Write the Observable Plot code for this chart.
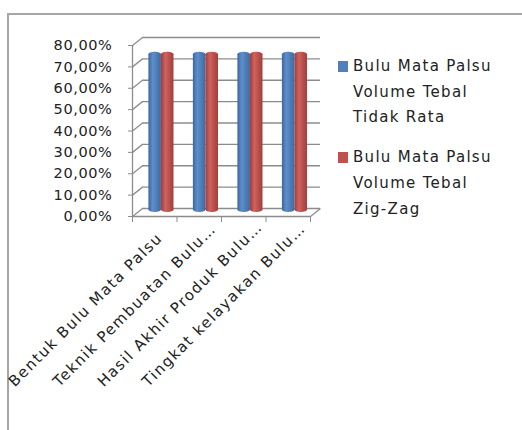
<!DOCTYPE html>
<html>
<head>
<meta charset="utf-8">
<script src="https://cdn.jsdelivr.net/npm/d3@7"></script>
<script src="https://cdn.jsdelivr.net/npm/@observablehq/plot@0.6"></script>
<style>
  html, body { margin: 0; padding: 0; background: #fff; }
  #wrap { position: relative; width: 522px; height: 430px; overflow: hidden; font-family: "DejaVu Sans", sans-serif; color: #222; }
  #frame { position: absolute; left: 7px; top: 13px; width: 700px; height: 700px; border: 2px solid #a6a6a6; box-sizing: border-box; }
  #chart { position: absolute; left: 0; top: 0; }
  #legend { position: absolute; left: 338px; top: 54px; font-size: 15px; letter-spacing: 1.3px; line-height: 25.7px; }
  .entry { position: relative; padding-left: 15px; margin-bottom: 14px; white-space: nowrap; }
  .sw { position: absolute; left: 0; top: 7px; width: 10px; height: 11px; }
</style>
</head>
<body>
<div id="wrap">
  <div id="frame"></div>
  <div id="chart"></div>
  <div id="legend"></div>
</div>
<script>
// ---- data ----
const categories = ["Bentuk Bulu Mata Palsu", "Teknik Pembuatan Bulu…", "Hasil Akhir Produk Bulu…", "Tingkat kelayakan Bulu…"];
const seriesNames = [["Bulu Mata Palsu", "Volume Tebal", "Tidak Rata"], ["Bulu Mata Palsu", "Volume Tebal", "Zig-Zag"]];
const seriesTidakRata = [75, 75, 75, 75];
const seriesZigZag = [75, 75, 75, 75];
const yTicks = [0, 10, 20, 30, 40, 50, 60, 70, 80];
const seriesColors = ["#4f81bd", "#c0504d"];

// ---- layout (styling only) ----
const W = 522, H = 430;
const mL = 132, mR = 212, mT = 45, mB = 214;
const pxPerX = (W - mL - mR) / categories.length;
const pxPerY = (H - mT - mB) / 80;
const DX = 10 / pxPerX;   // depth offset in x units
const DY = 8 / pxPerY;    // depth offset in y units
const BAR0 = 0.256, BARW = 0.282;

const rows = categories.flatMap((c, i) => [
  {cat: c, i, s: 0, v: seriesTidakRata[i]},
  {cat: c, i, s: 1, v: seriesZigZag[i]}
]);
const fmt = d => d.toFixed(2).replace(".", ",") + "%";
const grid = "#8c8c8c";
const n = categories.length;
const bounds = d3.range(n + 1);

const barMark = (s, fill) => Plot.rect(rows.filter(d => d.s === s), {
  x1: d => d.i + BAR0 + d.s * BARW + DX / 2,
  x2: d => d.i + BAR0 + (d.s + 1) * BARW + DX / 2,
  y1: () => DY / 2,
  y2: d => d.v + DY / 2,
  fill, rx: 6, ry: 2.5
});

const svg = Plot.plot({
  width: W, height: H,
  marginLeft: mL, marginRight: mR, marginTop: mT, marginBottom: mB,
  style: {fontFamily: "DejaVu Sans, sans-serif", fontSize: "14px", color: "#222", background: "transparent", overflow: "visible"},
  x: {type: "linear", domain: [0, n], axis: null},
  y: {domain: [0, 80], axis: null},
  marks: [
    // back wall gridlines
    Plot.ruleY(yTicks, {y: d => d + DY, x1: () => DX, x2: () => n + DX, stroke: grid, strokeWidth: 1.3}),
    // side wall diagonals
    Plot.link(yTicks, {x1: () => 0, y1: d => d, x2: () => DX, y2: d => d + DY, stroke: grid, strokeWidth: 1.3}),
    // front vertical axis line
    Plot.ruleX([0], {y1: 0, y2: 80, stroke: grid, strokeWidth: 1.3}),
    // floor front edge and right edge
    Plot.ruleY([0], {x1: 0, x2: n, stroke: grid, strokeWidth: 1.3}),
    Plot.link([0], {x1: () => n, y1: () => 0, x2: () => n + DX, y2: () => DY, stroke: grid, strokeWidth: 1.3}),
    // bars
    barMark(0, "url(#gBlue)"),
    barMark(1, "url(#gRed)"),
    // axes
    Plot.axisY(yTicks, {tickSize: 4, tickPadding: 16, tickFormat: fmt, stroke: grid, fontSize: 14.5}),
    Plot.axisX(bounds, {tickSize: 6, tickFormat: () => "", stroke: grid}),
    Plot.text(categories, {
      x: (d, i) => i + 0.5, y: () => 0, text: d => d,
      rotate: -45, textAnchor: "start", lineAnchor: "bottom",
      dx: -140, dy: 171, fontSize: 15, fill: "#222"
    })
  ]
});

const defs = d3.select(svg).insert("defs", ":first-child");
function grad(id, dark, light, dark2) {
  const g = defs.append("linearGradient").attr("id", id).attr("x1", "0").attr("x2", "1").attr("y1", "0").attr("y2", "0");
  g.append("stop").attr("offset", "0%").attr("stop-color", dark);
  g.append("stop").attr("offset", "35%").attr("stop-color", light);
  g.append("stop").attr("offset", "100%").attr("stop-color", dark2);
}
grad("gBlue", "#3c679c", "#5d8fcc", "#3e6aa0");
grad("gRed", "#9e3c3a", "#d0625f", "#a13e3b");

d3.select(svg).selectAll("g[aria-label='text'] text").style("letter-spacing", "1.5px");
d3.select(svg).selectAll("g[aria-label='y-axis tick label'] text").style("letter-spacing", "0.6px");

document.getElementById("chart").appendChild(svg);

const legend = d3.select("#legend");
seriesNames.forEach((lines, s) => {
  const e = legend.append("div").attr("class", "entry");
  e.append("div").attr("class", "sw").style("background", seriesColors[s]);
  lines.forEach(l => e.append("div").text(l));
});
</script>
</body>
</html>
